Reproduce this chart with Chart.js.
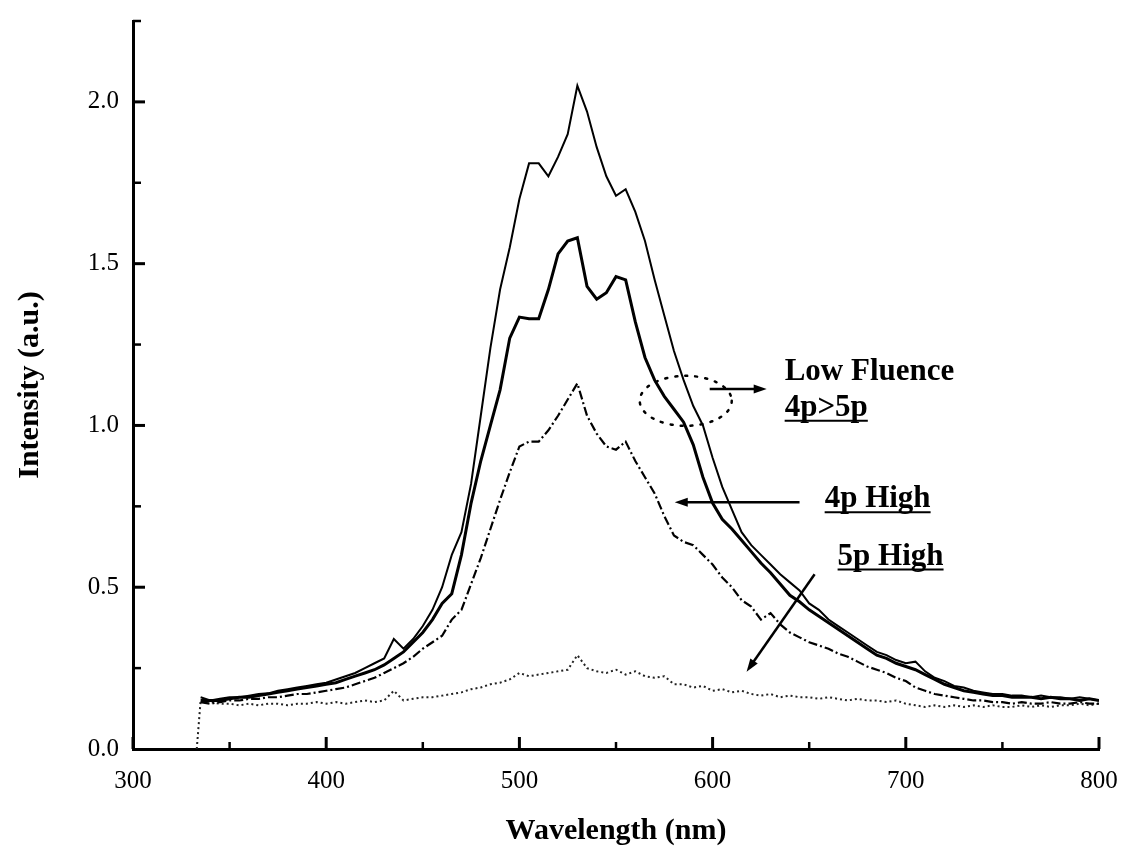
<!DOCTYPE html>
<html><head><meta charset="utf-8">
<script src="https://cdn.jsdelivr.net/npm/chart.js@4.4.1/dist/chart.umd.min.js"></script>
<style>html,body{margin:0;padding:0;background:#fff;}#wrap{width:1122px;height:850px;}</style>
</head><body><div id="wrap"><canvas id="c" width="1122" height="850"></canvas></div>
<script>
// ---- data (wavelength in nm, intensity in a.u.) ----
const wavelengths = [333,335,340,345,350,355,360,365,370,375,380,385,390,395,400,405,410,415,420,425,430,435,440,445,450,455,460,465,470,475,480,485,490,495,500,505,510,515,520,525,530,535,540,545,550,555,560,565,570,575,580,585,590,595,600,605,610,615,620,625,630,635,640,645,650,655,660,665,670,675,680,685,690,695,700,705,710,715,720,725,730,735,740,745,750,755,760,765,770,775,780,785,790,795,800];

const lowFluence4p = [null,0.16,0.15,0.155,0.16,0.16,0.165,0.17,0.172,0.18,0.185,0.19,0.195,0.2,0.205,0.215,0.225,0.235,0.25,0.265,0.28,0.34,0.31,0.34,0.38,0.43,0.5,0.6,0.67,0.82,1.03,1.24,1.42,1.55,1.7,1.81,1.81,1.77,1.83,1.9,2.05,1.97,1.86,1.77,1.71,1.73,1.66,1.57,1.45,1.34,1.23,1.14,1.06,1.0,0.9,0.81,0.74,0.67,0.63,0.6,0.57,0.54,0.515,0.49,0.45,0.43,0.4,0.38,0.36,0.34,0.32,0.3,0.29,0.275,0.265,0.27,0.24,0.22,0.21,0.195,0.19,0.18,0.175,0.17,0.17,0.165,0.165,0.16,0.165,0.16,0.16,0.155,0.16,0.155,0.15];

const lowFluence5p = [null,0.15,0.15,0.15,0.155,0.16,0.16,0.165,0.17,0.175,0.18,0.185,0.19,0.195,0.2,0.205,0.215,0.225,0.235,0.245,0.26,0.28,0.3,0.33,0.36,0.4,0.45,0.48,0.6,0.76,0.89,1.0,1.11,1.27,1.335,1.33,1.33,1.42,1.53,1.57,1.58,1.43,1.39,1.41,1.46,1.45,1.32,1.21,1.14,1.09,1.05,1.01,0.94,0.84,0.76,0.71,0.68,0.645,0.61,0.575,0.545,0.51,0.475,0.455,0.43,0.41,0.39,0.37,0.35,0.33,0.31,0.29,0.28,0.265,0.255,0.245,0.23,0.215,0.2,0.19,0.18,0.175,0.17,0.165,0.165,0.16,0.16,0.16,0.155,0.16,0.155,0.155,0.15,0.155,0.15];

const highFluence4p = [null,0.145,0.14,0.145,0.15,0.15,0.155,0.155,0.16,0.16,0.165,0.17,0.17,0.175,0.18,0.185,0.19,0.2,0.21,0.22,0.235,0.25,0.265,0.285,0.31,0.33,0.35,0.4,0.43,0.51,0.59,0.68,0.77,0.855,0.935,0.95,0.95,0.985,1.03,1.08,1.13,1.03,0.975,0.935,0.925,0.95,0.89,0.84,0.79,0.72,0.66,0.64,0.63,0.6,0.57,0.53,0.5,0.46,0.44,0.4,0.42,0.385,0.36,0.345,0.33,0.32,0.31,0.295,0.285,0.27,0.255,0.245,0.235,0.22,0.21,0.19,0.18,0.17,0.165,0.16,0.155,0.15,0.15,0.145,0.145,0.14,0.145,0.14,0.14,0.145,0.14,0.14,0.145,0.14,0.14];

const highFluence5p = [0,0.15,0.145,0.14,0.14,0.135,0.14,0.135,0.14,0.14,0.135,0.14,0.14,0.145,0.14,0.145,0.14,0.145,0.15,0.145,0.15,0.18,0.15,0.155,0.16,0.16,0.165,0.17,0.175,0.185,0.19,0.2,0.205,0.215,0.235,0.225,0.23,0.235,0.24,0.245,0.29,0.25,0.24,0.235,0.245,0.23,0.24,0.225,0.22,0.225,0.2,0.2,0.19,0.195,0.18,0.185,0.175,0.18,0.17,0.165,0.17,0.16,0.165,0.16,0.16,0.155,0.16,0.155,0.15,0.155,0.15,0.15,0.145,0.15,0.14,0.135,0.13,0.135,0.13,0.135,0.13,0.135,0.13,0.135,0.13,0.13,0.135,0.13,0.135,0.13,0.135,0.135,0.14,0.135,0.14];

const xTickLabels = [300,400,500,600,700,800];
const yTickLabels = [0,0.5,1.0,1.5,2.0];

// ---- chart ----
const toPts = arr => wavelengths.map((w,i)=>({x:w,y:arr[i]}));

const notes = [
  {text:'Low Fluence', x:637.3, y:1.141, underline:false},
  {text:'4p>5p', x:637.3, y:1.03, underline:true},
  {text:'4p High', x:658, y:0.747, underline:true},
  {text:'5p High', x:664.7, y:0.57, underline:true}
];
const arrows = [
  {from:[598.5,1.113], to:[628,1.113]},
  {from:[645,0.763], to:[580.4,0.763]},
  {from:[652.8,0.54], to:[617.6,0.239]}
];
const ellipse = {x:586.1, y:1.076, rx:46, ry:25};

const decor = {
  id:'decor',
  afterDraw(chart){
    const ctx = chart.ctx, xs = chart.scales.x, ys = chart.scales.y;
    const x0 = xs.getPixelForValue(300), y0 = ys.getPixelForValue(0);
    ctx.save();
    ctx.strokeStyle = '#000'; ctx.fillStyle = '#000'; ctx.lineCap = 'butt';
    // inward x ticks
    for (let v=300; v<=800; v+=50){
      const px = xs.getPixelForValue(v), major = v%100===0;
      ctx.lineWidth = major?3:2.5;
      ctx.beginPath(); ctx.moveTo(px, y0); ctx.lineTo(px, y0-(major?12:7)); ctx.stroke();
    }
    // inward y ticks
    for (let v=0.25; v<=2.26; v+=0.25){
      const py = ys.getPixelForValue(v), major = Math.abs(v*2-Math.round(v*2))<1e-6;
      ctx.lineWidth = major?3:2.5;
      ctx.beginPath(); ctx.moveTo(x0, py); ctx.lineTo(x0+(major?12:8), py); ctx.stroke();
    }
    // ellipse
    ctx.lineWidth = 2.5; ctx.setLineDash([2,8]); ctx.lineCap='round';
    ctx.beginPath();
    ctx.ellipse(xs.getPixelForValue(ellipse.x), ys.getPixelForValue(ellipse.y), ellipse.rx, ellipse.ry, 0, 0, Math.PI*2);
    ctx.stroke();
    ctx.setLineDash([]); ctx.lineCap='butt';
    // arrows
    arrows.forEach(a=>{
      const ax = xs.getPixelForValue(a.from[0]), ay = ys.getPixelForValue(a.from[1]);
      const bx = xs.getPixelForValue(a.to[0]), by = ys.getPixelForValue(a.to[1]);
      const ang = Math.atan2(by-ay, bx-ax);
      ctx.lineWidth = 2.5;
      ctx.beginPath(); ctx.moveTo(ax,ay); ctx.lineTo(bx-Math.cos(ang)*6, by-Math.sin(ang)*6); ctx.stroke();
      ctx.beginPath();
      ctx.moveTo(bx,by);
      ctx.lineTo(bx-Math.cos(ang)*13+Math.sin(ang)*4.5, by-Math.sin(ang)*13-Math.cos(ang)*4.5);
      ctx.lineTo(bx-Math.cos(ang)*13-Math.sin(ang)*4.5, by-Math.sin(ang)*13+Math.cos(ang)*4.5);
      ctx.closePath(); ctx.fill();
    });
    // text notes
    ctx.font = 'bold 31px "Liberation Serif"';
    ctx.textBaseline = 'alphabetic'; ctx.textAlign = 'left';
    notes.forEach(n=>{
      const px = xs.getPixelForValue(n.x), py = ys.getPixelForValue(n.y);
      ctx.fillText(n.text, px, py);
      if (n.underline){
        const w = ctx.measureText(n.text).width;
        ctx.lineWidth = 2;
        ctx.beginPath(); ctx.moveTo(px, py+5); ctx.lineTo(px+w, py+5); ctx.stroke();
      }
    });
    ctx.restore();
  }
};

const tickFont = {family:'"Liberation Serif"', size:25};
const titleFont = {family:'"Liberation Serif"', size:30, weight:'bold', lineHeight:1.2};

new Chart(document.getElementById('c'), {
  type:'line',
  data:{ datasets:[
    {label:'Low fluence 4p', data:toPts(lowFluence4p), borderColor:'#000', borderWidth:2, pointRadius:0, tension:0},
    {label:'Low fluence 5p', data:toPts(lowFluence5p), borderColor:'#000', borderWidth:3, pointRadius:0, tension:0},
    {label:'4p High', data:toPts(highFluence4p), borderColor:'#000', borderWidth:2.2, borderDash:[9,3,2,3], pointRadius:0, tension:0},
    {label:'5p High', data:toPts(highFluence5p), borderColor:'#222', borderWidth:2, borderDash:[2,3], pointRadius:0, tension:0}
  ]},
  options:{
    responsive:false, animation:false, devicePixelRatio:1,
    layout:{padding:{left:0,right:23,top:21,bottom:0}},
    plugins:{legend:{display:false}, tooltip:{enabled:false}},
    scales:{
      x:{type:'linear', min:300, max:800,
        afterBuildTicks:s=>{s.ticks = xTickLabels.map(v=>({value:v}));},
        afterFit:s=>{s.height = 101; s.paddingLeft = 0; s.paddingRight = 0;},
        grid:{display:false, drawTicks:false},
        border:{display:true, width:3, color:'#000'},
        ticks:{font:tickFont, color:'#000', padding:17, maxRotation:0, autoSkip:false, callback:v=>String(v)},
        title:{display:true, text:'Wavelength (nm)', font:titleFont, color:'#000', padding:{top:0,bottom:1}}
      },
      y:{type:'linear', min:0, max:2.25,
        afterBuildTicks:s=>{s.ticks = yTickLabels.map(v=>({value:v}));},
        afterFit:s=>{s.width = 133; s.paddingTop = 0; s.paddingBottom = 0;},
        grid:{display:false, drawTicks:false},
        border:{display:true, width:3, color:'#000'},
        ticks:{font:tickFont, color:'#000', padding:14, autoSkip:false, callback:v=>Number(v).toFixed(1)},
        title:{display:true, text:'Intensity (a.u.)', font:titleFont, color:'#000', padding:{top:12,bottom:0}}
      }
    }
  },
  plugins:[decor]
});
</script></body></html>
